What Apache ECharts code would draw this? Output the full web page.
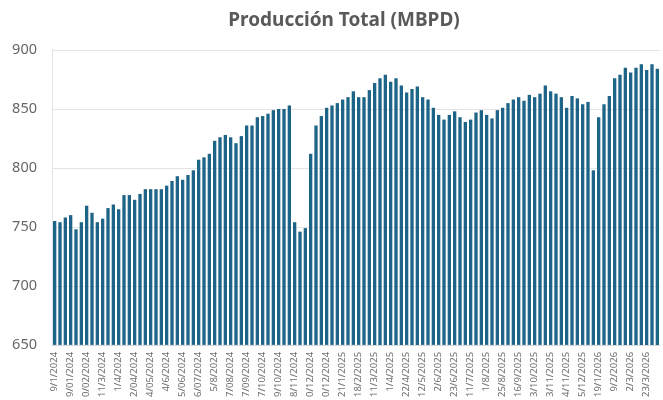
<!DOCTYPE html>
<html>
<head>
<meta charset="utf-8">
<script src="https://cdn.jsdelivr.net/npm/echarts@6/dist/echarts.min.js"></script>
<style>
  html, body { margin: 0; padding: 0; background: #fff; overflow: hidden; }
  #main { width: 663px; height: 400px; }
</style>
</head>
<body>
<div id="main"></div>
<script>
// etiquetas visibles del eje x (una cada 3 barras)
var dateLabels = [
  '9/1/2024', '9/01/2024', '0/02/2024', '11/3/2024', '1/4/2024', '2/04/2024', '4/05/2024',
  '4/6/2024', '5/06/2024', '6/07/2024', '5/8/2024', '7/08/2024', '7/09/2024', '7/10/2024',
  '9/10/2024', '8/11/2024', '0/12/2024', '0/12/2024', '21/1/2025', '18/2/2025', '11/3/2025',
  '1/4/2025', '22/4/2025', '12/5/2025', '2/6/2025', '23/6/2025', '11/7/2025', '1/8/2025',
  '25/8/2025', '16/9/2025', '3/10/2025', '3/11/2025', '4/11/2025', '5/12/2025', '19/1/2026',
  '9/2/2026', '2/3/2026', '23/3/2026'
];

// producción semanal (MBPD)
var produccion = [
  755, 754, 758, 760, 748, 754, 768, 762, 754, 757,
  766, 769, 765, 777, 777, 773, 778, 782, 782, 782,
  782, 785, 789, 793, 790, 794, 798, 807, 809, 812,
  823, 826, 828, 826, 821, 827, 836, 836, 843, 844,
  846, 849, 850, 850, 853, 754, 746, 749, 812, 836,
  844, 851, 853, 855, 858, 860, 865, 860, 860, 866,
  872, 876, 879, 873, 876, 870, 864, 867, 869, 860,
  858, 851, 845, 841, 845, 848, 843, 839, 841, 847,
  849, 845, 842, 849, 851, 855, 858, 860, 857, 862,
  860, 863, 870, 865, 863, 860, 851, 861, 859, 854,
  856, 798, 843, 854, 861, 876, 879, 885, 881, 885,
  888, 883, 888, 884
];

var yTicks = { min: 650, max: 900, step: 50 };

var categories = produccion.map(function (v, i) { return 'S' + (i + 1); });

var chart = echarts.init(document.getElementById('main'));
var option = {
  backgroundColor: '#ffffff',
  animation: false,
  title: {
    text: 'Producción Total (MBPD)',
    left: 339,
    textAlign: 'center',
    top: 6,
    textStyle: {
      color: '#595959',
      fontSize: 19,
      fontWeight: 'bold',
      fontFamily: 'Noto Sans'
    }
  },
  grid: { left: 52, right: 3, top: 50, bottom: 55 },
  xAxis: {
    type: 'category',
    data: categories,
    axisLine: { show: true, lineStyle: { color: '#d9d9d9' } },
    axisTick: { show: false },
    axisLabel: {
      interval: 2,
      rotate: 90,
      margin: 7,
      color: '#6f6f6f',
      fontSize: 9.5,
      fontFamily: 'Noto Sans',
      formatter: function (v, i) { return dateLabels[Math.floor(i / 3)]; }
    }
  },
  yAxis: {
    type: 'value',
    min: yTicks.min,
    max: yTicks.max,
    interval: yTicks.step,
    axisLine: { show: true, lineStyle: { color: '#e3e3e3' } },
    axisTick: { show: false },
    splitLine: { lineStyle: { color: '#e3e3e3' } },
    axisLabel: {
      margin: 15,
      color: '#666666',
      fontSize: 14.5,
      fontFamily: 'Noto Sans'
    }
  },
  series: [{
    type: 'bar',
    data: produccion,
    barWidth: '62%',
    itemStyle: { color: '#1d6488' }
  }]
};
chart.setOption(option);
</script>
</body>
</html>
